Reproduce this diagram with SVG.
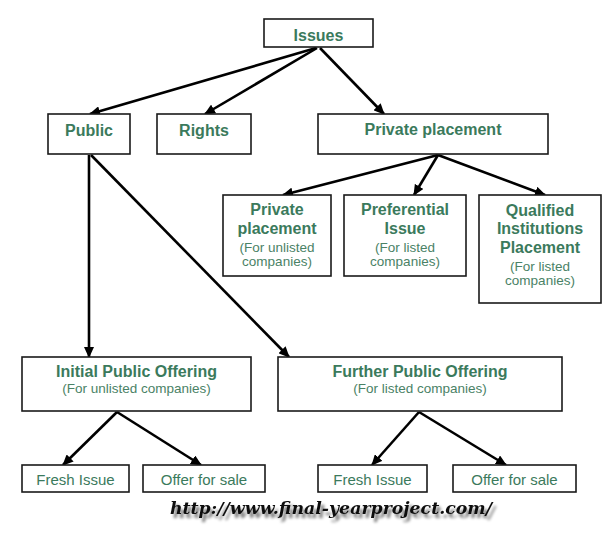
<svg xmlns="http://www.w3.org/2000/svg" width="616" height="541" viewBox="0 0 616 541">
<style>
.box{fill:#fff;stroke:#1a1a1a;stroke-width:1.6}
.t{font-family:"Liberation Sans",Arial,sans-serif;font-weight:bold;font-size:16px;fill:#3b7a5c;text-anchor:middle}
.s{font-family:"Liberation Sans",Arial,sans-serif;font-size:13.5px;fill:#4a8266;text-anchor:middle}
.r{font-family:"Liberation Sans",Arial,sans-serif;font-size:15px;fill:#3b7a5c;text-anchor:middle}
.c line{stroke:#000;stroke-width:2.6;marker-end:url(#ah)}
.url{font-family:"DejaVu Serif",serif;font-style:italic;font-weight:bold;font-size:17px;fill:#111;text-anchor:middle}
</style>
<defs>
<marker id="ah" markerUnits="userSpaceOnUse" markerWidth="11" markerHeight="10" refX="10" refY="5" orient="auto">
<path d="M0,0 L11,5 L0,10 z" fill="#000"/>
</marker>
<filter id="sh" x="-10%" y="-50%" width="120%" height="200%">
<feGaussianBlur in="SourceAlpha" stdDeviation="1.8"/>
<feOffset dx="3" dy="4" result="b"/>
<feComponentTransfer><feFuncA type="linear" slope="0.55"/></feComponentTransfer>
<feMerge><feMergeNode/><feMergeNode in="SourceGraphic"/></feMerge>
</filter>
</defs>
<rect width="616" height="541" fill="#fff"/>
<g id="connectors" class="c">
<line x1="316" y1="48" x2="90" y2="114"/>
<line x1="317" y1="48" x2="205" y2="114"/>
<line x1="320" y1="48" x2="384" y2="114"/>
<line x1="438" y1="155" x2="283" y2="195"/>
<line x1="438" y1="155" x2="414" y2="195"/>
<line x1="438" y1="155" x2="545" y2="195"/>
<line x1="89" y1="155" x2="89" y2="357"/>
<line x1="91" y1="155" x2="289" y2="357"/>
<line x1="117" y1="412" x2="63" y2="465"/>
<line x1="117" y1="412" x2="201" y2="465"/>
<line x1="419" y1="412" x2="372" y2="465"/>
<line x1="419" y1="412" x2="506" y2="465"/>
</g>
<g id="issues"><rect class="box" x="264" y="19" width="109" height="28"/><text class="t" x="318.5" y="41">Issues</text></g>
<g id="public"><rect class="box" x="48" y="114" width="82" height="40"/><text class="t" x="89" y="135.5">Public</text></g>
<g id="rights"><rect class="box" x="157" y="114" width="94" height="40"/><text class="t" x="204" y="135.5">Rights</text></g>
<g id="private"><rect class="box" x="318" y="114" width="230" height="40"/><text class="t" x="433" y="134.5">Private placement</text></g>
<g id="private-unlisted"><rect class="box" x="223" y="195" width="108" height="81"/>
<text class="t" x="277" y="215">Private</text><text class="t" x="277" y="234">placement</text>
<text class="s" x="277" y="252">(For unlisted</text><text class="s" x="277" y="266">companies)</text></g>
<g id="preferential"><rect class="box" x="344" y="195" width="122" height="81"/>
<text class="t" x="405" y="215">Preferential</text><text class="t" x="405" y="234">Issue</text>
<text class="s" x="405" y="252">(For listed</text><text class="s" x="405" y="266">companies)</text></g>
<g id="qip"><rect class="box" x="479" y="195" width="122" height="108"/>
<text class="t" x="540" y="215.5">Qualified</text><text class="t" x="540" y="234">Institutions</text><text class="t" x="540" y="253">Placement</text>
<text class="s" x="540" y="271">(For listed</text><text class="s" x="540" y="284.5">companies)</text></g>
<g id="ipo"><rect class="box" x="22" y="357" width="229" height="54"/>
<text class="t" x="136.5" y="377">Initial Public Offering</text><text class="s" x="136.5" y="393">(For unlisted companies)</text></g>
<g id="fpo"><rect class="box" x="278" y="357" width="284" height="54"/>
<text class="t" x="420" y="377">Further Public Offering</text><text class="s" x="420" y="393">(For listed companies)</text></g>
<g id="fresh1"><rect class="box" x="22" y="465" width="107" height="27"/><text class="r" x="75.5" y="485">Fresh Issue</text></g>
<g id="offer1"><rect class="box" x="143" y="465" width="122" height="27"/><text class="r" x="204" y="485">Offer for sale</text></g>
<g id="fresh2"><rect class="box" x="318" y="465" width="109" height="27"/><text class="r" x="372.5" y="485">Fresh Issue</text></g>
<g id="offer2"><rect class="box" x="453" y="465" width="123" height="27"/><text class="r" x="514.5" y="485">Offer for sale</text></g>
<text class="url" x="331" y="514" textLength="322" lengthAdjust="spacingAndGlyphs" filter="url(#sh)">http://www.final-yearproject.com/</text>
</svg>
